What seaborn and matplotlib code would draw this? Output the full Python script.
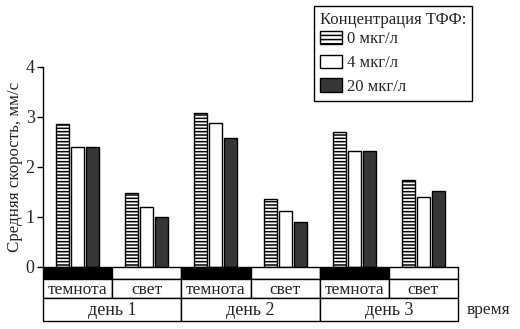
import matplotlib
matplotlib.use("Agg")
import matplotlib.pyplot as plt
from matplotlib.patches import Rectangle, Patch
import seaborn as sns
import pandas as pd

# ---- data ----
periods = ["темнота", "свет", "темнота", "свет", "темнота", "свет"]
days = ["день 1", "день 2", "день 3"]
conc_labels = ["0 мкг/л", "4 мкг/л", "20 мкг/л"]
v0 = [2.85, 1.48, 3.07, 1.35, 2.69, 1.73]
v4 = [2.40, 1.20, 2.88, 1.12, 2.32, 1.40]
v20 = [2.40, 1.00, 2.57, 0.90, 2.32, 1.52]
yticks = [0, 1, 2, 3, 4]
ylabel = "Средняя скорость, мм/с"
legend_title = "Концентрация ТФФ:"
xlabel_right = "время"

slots = [f"p{i}" for i in range(len(periods))]
rows = []
for vals, c in zip([v0, v4, v20], conc_labels):
    for s, v in zip(slots, vals):
        rows.append({"slot": s, "conc": c, "v": v})
df = pd.DataFrame(rows)

sns.set_theme(style="white")
plt.rcParams["font.family"] = ["Liberation Serif", "DejaVu Serif"]
plt.rcParams["hatch.linewidth"] = 1.1
plt.rcParams["hatch.color"] = "black"

fig = plt.figure(figsize=(5.2, 3.29), dpi=100)
ax = fig.add_axes([43 / 520, 8 / 329, 415 / 520, 254.3 / 329])

colors = ["white", "white", "#363636"]
sns.barplot(data=df, x="slot", y="v", hue="conc", order=slots,
            hue_order=conc_labels, palette=colors, width=0.65, gap=0.13,
            edgecolor="black", linewidth=1.0, legend=False, ax=ax,
            saturation=1)
hatches = ["-----", "", ""]
for cont, h in zip(ax.containers, hatches):
    for p in cont:
        p.set_hatch(h)

ax.set_xlim(-0.5, len(periods) - 0.5)
ax.set_ylim(-1.08, 4.0)
ax.set_xticks([])
ax.set_xlabel("")
ax.set_yticks(yticks)
ax.set_yticklabels([str(t) for t in yticks], fontsize=13)
ax.tick_params(axis="y", direction="out", length=4, width=1, color="black", pad=2, left=True)
ax.set_ylabel(ylabel, fontsize=12.2)
ax.yaxis.set_label_coords(-0.049, 0.605)
for s in ["top", "right", "bottom"]:
    ax.spines[s].set_visible(False)
ax.spines["left"].set_bounds(0, 4)
ax.spines["left"].set_color("black")
ax.spines["left"].set_linewidth(1.0)

# bands below the axis
r1, r2, r3 = -0.24, -0.62, -1.08
for i, per in enumerate(periods):
    x0 = i - 0.5
    ax.add_patch(Rectangle((x0, r1), 1, -r1, facecolor="black" if per == "темнота" else "white",
                           edgecolor="black", linewidth=1.0, clip_on=False))
    ax.add_patch(Rectangle((x0, r2), 1, r1 - r2, facecolor="white",
                           edgecolor="black", linewidth=1.0, clip_on=False))
    ax.text(i, (r1 + r2) / 2 - 0.04, per, ha="center", va="center", fontsize=12.5)
for j, d in enumerate(days):
    x0 = 2 * j - 0.5
    ax.add_patch(Rectangle((x0, r3), 2, r2 - r3, facecolor="white",
                           edgecolor="black", linewidth=1.0, clip_on=False))
    ax.text(2 * j + 0.5, (r2 + r3) / 2 - 0.02, d, ha="center", va="center", fontsize=13)
ax.text(5.62, (r2 + r3) / 2 - 0.02, xlabel_right, ha="left", va="center", fontsize=12.5,
        clip_on=False)

handles = [Patch(facecolor=colors[k], edgecolor="black", hatch="----" if k == 0 else "",
                 linewidth=1.0) for k in range(3)]
leg = fig.legend(handles, conc_labels, title=legend_title, loc="upper left",
                 bbox_to_anchor=(314 / 520, 1 - 6 / 329), fancybox=False,
                 edgecolor="black", framealpha=1, fontsize=12, title_fontsize=12,
                 handlelength=1.3, handleheight=0.85, handletextpad=0.35,
                 labelspacing=0.45, borderpad=0.35, borderaxespad=0)
leg._legend_box.align = "left"
leg._legend_box.sep = 2
leg.get_frame().set_linewidth(1.0)

fig.savefig("out.png", dpi=100)
